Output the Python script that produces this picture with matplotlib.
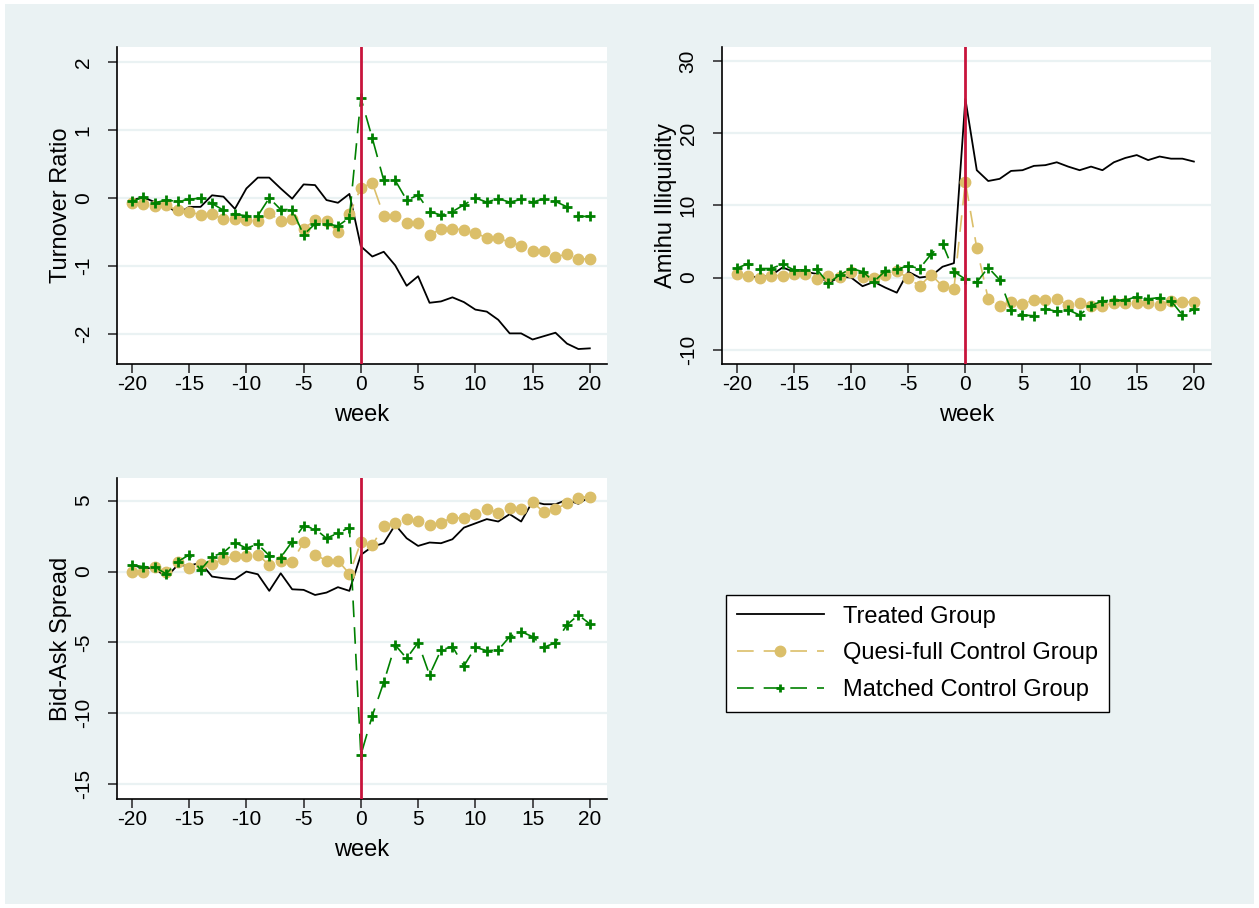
import numpy as np
import matplotlib
matplotlib.use('Agg')
import matplotlib.pyplot as plt
from matplotlib.lines import Line2D
from matplotlib.patches import Rectangle

plt.rcParams['font.family'] = ['Liberation Sans', 'DejaVu Sans']
plt.rcParams['axes.unicode_minus'] = False

# weeks relative to the event
weeks = list(range(-20, 21))

# Turnover Ratio
turn_treated = [-0.03, 0.01, -0.06, -0.10, -0.23, -0.13, -0.13, 0.04, 0.02, -0.16, 0.14,
                0.30, 0.30, 0.14, -0.01, 0.20, 0.19, -0.03, -0.07, 0.06, -0.71,
                -0.86, -0.79, -0.99, -1.29, -1.15, -1.54, -1.52, -1.46, -1.53, -1.64,
                -1.67, -1.79, -1.99, -1.99, -2.08, -2.03, -1.98, -2.14, -2.22, -2.21]
turn_quasi = [-0.07, -0.09, -0.12, -0.11, -0.18, -0.20, -0.25, -0.24, -0.31, -0.31, -0.33,
              -0.34, -0.22, -0.34, -0.31, -0.45, -0.33, -0.34, -0.50, -0.24, 0.15,
              0.22, -0.26, -0.26, -0.37, -0.37, -0.55, -0.45, -0.45, -0.47, -0.51,
              -0.59, -0.59, -0.65, -0.70, -0.78, -0.78, -0.86, -0.83, -0.89, -0.90]
turn_matched = [-0.05, 0.01, -0.07, -0.03, -0.05, -0.02, 0.00, -0.08, -0.18, -0.24, -0.26,
                -0.26, 0.00, -0.17, -0.17, -0.54, -0.38, -0.38, -0.41, -0.29, 1.47,
                0.88, 0.26, 0.26, -0.03, 0.04, -0.20, -0.25, -0.20, -0.10, 0.00,
                -0.06, -0.01, -0.06, -0.02, -0.06, -0.01, -0.05, -0.13, -0.27, -0.27]

# Amihu Illiquidity
amihud_treated = [0.5, 0.2, 0.0, 0.3, 1.4, 0.8, 0.8, 0.5, -0.8, 0.1, 0.0,
                  -1.2, -0.6, -1.4, -2.1, 0.8, 0.0, 0.2, 1.5, 2.0, 24.8,
                  14.9, 13.4, 13.7, 14.8, 14.9, 15.5, 15.6, 16.0, 15.4, 14.9,
                  15.4, 14.9, 16.0, 16.6, 17.0, 16.3, 16.8, 16.5, 16.5, 16.1]
amihud_quasi = [0.46, 0.28, -0.10, 0.28, 0.28, 0.46, 0.46, -0.23, 0.23, 0.05, 0.74,
                0.14, -0.09, 0.37, 0.93, -0.09, -1.16, 0.37, -1.16, -1.53, 13.3,
                4.1, -2.96, -3.94, -3.33, -3.70, -3.10, -3.10, -3.00, -3.80, -3.56,
                -3.90, -3.90, -3.56, -3.56, -3.56, -3.56, -3.80, -3.20, -3.40, -3.40]
amihud_matched = [1.30, 1.94, 1.25, 1.25, 1.85, 1.06, 1.06, 1.16, -0.79, 0.37, 1.25,
                  0.83, -0.56, 0.93, 1.16, 1.62, 1.25, 3.24, 4.68, 0.83, -0.23,
                  -0.65, 1.39, -0.32, -4.50, -5.20, -5.30, -4.35, -4.70, -4.50, -5.20,
                  -3.90, -3.24, -3.15, -3.15, -2.64, -2.96, -2.78, -3.24, -5.20, -4.40]

# Bid-Ask Spread
spread_treated = [0.47, 0.24, 0.24, -0.42, 0.47, 0.40, 0.64, -0.35, -0.47, -0.54, 0.00,
                  -0.19, -1.36, -0.12, -1.25, -1.29, -1.65, -1.48, -1.10, -1.36, 1.18,
                  1.76, 2.00, 3.30, 2.35, 1.81, 2.05, 2.00, 2.28, 3.10, 3.40,
                  3.70, 3.53, 4.05, 3.53, 4.94, 4.75, 4.75, 5.06, 4.78, 5.29]
spread_quasi = [-0.05, 0.00, 0.35, -0.05, 0.70, 0.28, 0.52, 0.52, 0.89, 1.10, 1.10,
                1.18, 0.47, 0.75, 0.70, 2.07, 1.18, 0.78, 0.78, -0.16, 2.07,
                1.88, 3.18, 3.46, 3.69, 3.58, 3.29, 3.46, 3.81, 3.76, 4.07,
                4.40, 4.16, 4.47, 4.40, 4.89, 4.19, 4.40, 4.82, 5.22, 5.29]
spread_matched = [0.47, 0.35, 0.31, -0.16, 0.70, 1.18, 0.12, 1.06, 1.34, 2.05, 1.65,
                  1.93, 1.13, 0.99, 2.12, 3.22, 3.01, 2.35, 2.71, 3.10, -12.94,
                  -10.16, -7.81, -5.18, -6.12, -5.01, -7.29, -5.53, -5.29, -6.66, -5.34,
                  -5.58, -5.53, -4.59, -4.24, -4.59, -5.34, -5.01, -3.76, -3.06, -3.69]

labels = ['Treated Group', 'Quesi-full Control Group', 'Matched Control Group']

bg = '#eaf2f3'
gold = '#dbbf6a'
green = '#008000'
red = '#c8143c'
dash = (0, (10, 6))

W, H = 1259, 908
fig = plt.figure(figsize=(W / 100, H / 100), dpi=100, facecolor='white')
fig.patches.append(Rectangle((5 / W, 4 / H), 1249 / W, 900 / H, transform=fig.transFigure,
                             facecolor=bg, edgecolor='none', zorder=-10))


def panel(rect, treated, quasi, matched, ylabel, yticks, ylim):
    ax = fig.add_axes(rect)
    ax.set_facecolor('white')
    ax.plot(weeks, treated, color='black', lw=1.3, zorder=3)
    ax.plot(weeks, quasi, color=gold, lw=1.2, ls=dash, marker='o', ms=7.5,
            mec=gold, mfc=gold, zorder=3)
    ax.plot(weeks, matched, color=green, lw=1.2, ls=dash, marker='+', ms=7,
            mew=2, zorder=4)
    ax.axvline(0, color=red, lw=2, zorder=5)
    ax.set_xlim(-21.3, 21.5)
    ax.set_ylim(*ylim)
    ax.set_xticks([-20, -15, -10, -5, 0, 5, 10, 15, 20])
    ax.set_yticks(yticks)
    ax.grid(axis='y', color=bg, lw=1.6, zorder=0)
    ax.set_axisbelow(True)
    for s in ['top', 'right']:
        ax.spines[s].set_visible(False)
    for s in ['left', 'bottom']:
        ax.spines[s].set_linewidth(1.2)
    ax.tick_params(axis='both', length=6.5, width=1.2, labelsize=15, color='#333333')
    ax.tick_params(axis='x', pad=1.5)
    ax.tick_params(axis='y', pad=11)
    for t in ax.get_yticklabels():
        t.set_rotation(90)
        t.set_va('center')
    ax.set_xlabel('week', fontsize=17, labelpad=7)
    ax.set_ylabel(ylabel, fontsize=17, labelpad=1.5)
    return ax


panel([117 / W, 1 - 364 / H, 490 / W, 317 / H], turn_treated, turn_quasi, turn_matched,
      'Turnover Ratio', [-2, -1, 0, 1, 2], (-2.44, 2.22))
panel([722 / W, 1 - 364 / H, 489 / W, 317 / H], amihud_treated, amihud_quasi, amihud_matched,
      'Amihu Illiquidity', [-10, 0, 10, 20, 30], (-12.0, 32.0))
panel([117 / W, 1 - 799 / H, 490 / W, 321 / H], spread_treated, spread_quasi, spread_matched,
      'Bid-Ask Spread', [-15, -10, -5, 0, 5], (-16.04, 6.6))

handles = [Line2D([], [], color='black', lw=1.3),
           Line2D([], [], color=gold, lw=1.2, ls=dash, marker='o', ms=7.5, mec=gold),
           Line2D([], [], color=green, lw=1.2, ls=dash, marker='+', ms=6, mew=2)]
leg = fig.legend(handles, labels, loc='upper left', bbox_to_anchor=(726 / W, 1 - 595 / H),
                 fontsize=17, frameon=True, fancybox=False, edgecolor='black',
                 framealpha=1, borderaxespad=0, handlelength=3.7, handletextpad=0.8,
                 labelspacing=0.63, borderpad=0.45, numpoints=1)
leg.get_frame().set_linewidth(1.0)

fig.savefig('out.png', dpi=100, facecolor='white')
